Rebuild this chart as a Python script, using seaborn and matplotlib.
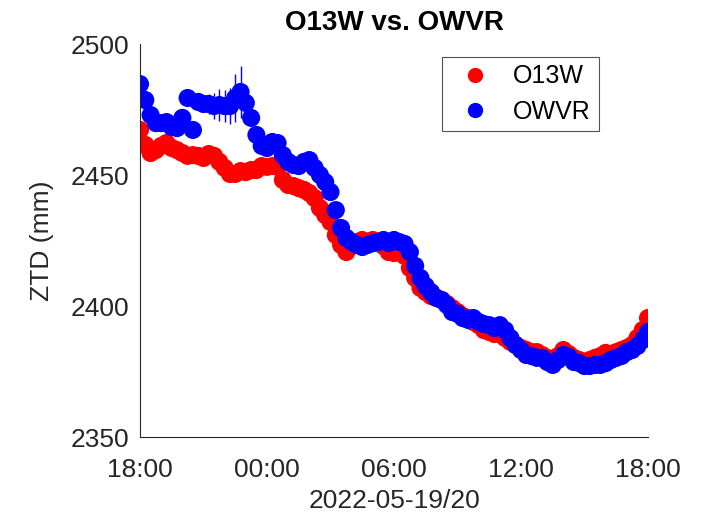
import numpy as np
import pandas as pd
import matplotlib
matplotlib.use("Agg")
import matplotlib.pyplot as plt
import seaborn as sns
from matplotlib.lines import Line2D

# hours since 2022-05-19 18:00, 15-minute sampling
hours = [i * 0.25 for i in range(97)]

o13w = [2467.2, 2461.5, 2458.4, 2459.5, 2461.1, 2462.2, 2460.3, 2459.5, 2458.4, 2457.3,
        2457.6, 2457.3, 2456.5, 2458.0, 2457.3, 2455.0, 2452.7, 2450.4, 2450.4, 2451.5,
        2451.1, 2451.9, 2451.9, 2453.4, 2453.1, 2453.4, 2453.1, 2448.1, 2446.2, 2445.8,
        2445.0, 2444.3, 2443.1, 2441.2, 2437.4, 2434.7, 2432.1, 2427.1, 2423.3, 2420.6,
        2422.9, 2424.4, 2425.2, 2424.4, 2425.2, 2424.0, 2422.9, 2420.6, 2420.2, 2420.6,
        2419.1, 2414.5, 2410.7, 2406.9, 2405.3, 2403.8, 2403.1, 2402.3, 2400.8, 2399.2,
        2397.7, 2396.2, 2395.4, 2393.9, 2392.7, 2390.8, 2390.1, 2389.3, 2389.3, 2387.8,
        2386.3, 2385.1, 2384.0, 2383.2, 2382.4, 2382.4, 2381.3, 2380.2, 2379.4, 2380.9,
        2383.2, 2381.7, 2380.2, 2379.4, 2378.6, 2379.4, 2380.2, 2380.9, 2382.1, 2381.7,
        2382.4, 2383.2, 2384.0, 2385.1, 2387.8, 2390.8, 2395.4]

owvr = [2484.7, 2478.6, 2472.9, 2469.8, 2469.8, 2470.2, 2468.3, 2467.9, 2471.8, 2479.4,
        2467.2, 2477.9, 2477.1, 2477.1, 2476.3, 2476.7, 2476.3, 2476.3, 2479.4, 2481.7,
        2477.5, 2471.8, 2465.3, 2461.1, 2460.3, 2462.6, 2462.2, 2457.6, 2455.0, 2453.8,
        2453.4, 2455.0, 2455.7, 2452.7, 2450.0, 2447.3, 2443.5, 2436.6, 2429.8, 2426.0,
        2424.4, 2423.3, 2422.5, 2423.3, 2424.0, 2424.4, 2425.2, 2424.0, 2425.2, 2424.4,
        2423.7, 2420.6, 2415.3, 2410.7, 2407.6, 2405.3, 2403.1, 2402.3, 2400.4, 2397.7,
        2397.0, 2395.4, 2394.7, 2395.4, 2393.9, 2393.1, 2392.7, 2391.6, 2392.7, 2390.8,
        2387.8, 2385.1, 2383.2, 2381.3, 2380.9, 2380.2, 2380.2, 2378.6, 2377.5, 2379.4,
        2381.3, 2380.6, 2378.6, 2378.2, 2377.1, 2377.1, 2377.5, 2377.5, 2378.2, 2379.4,
        2380.2, 2380.9, 2382.4, 2383.2, 2384.7, 2387.0, 2390.1]

owvr_err = [0.0] * 13 + [4.0, 5.0, 6.0, 6.0, 7.0, 9.0, 10.0, 7.0, 3.0] + [0.0] * 75

tick_hours = [0, 6, 12, 18, 24]
tick_labels = ["18:00", "00:00", "06:00", "12:00", "18:00"]
y_ticks = [2350, 2400, 2450, 2500]

df = pd.DataFrame({
    "hour": hours + hours,
    "ztd": o13w + owvr,
    "station": ["O13W"] * len(hours) + ["OWVR"] * len(hours),
})

sns.set_theme(style="white")
plt.rcParams["font.family"] = ["Liberation Sans", "DejaVu Sans"]
axc = "#262626"

fig = plt.figure(figsize=(7.08, 5.20), dpi=100)
ax = fig.add_axes([140 / 708, 1 - 437 / 520, 508 / 708, 393 / 520])

sns.scatterplot(data=df, x="hour", y="ztd", hue="station",
                palette={"O13W": "#ff0000", "OWVR": "#0000ff"},
                s=170, linewidth=0, alpha=1, ax=ax, legend=False, zorder=2)
ax.errorbar(hours, owvr, yerr=owvr_err, fmt="none", ecolor="#0000ff",
            elinewidth=1.0, capsize=0, zorder=3)

ax.set_xlim(0, 24)
ax.set_ylim(2350, 2500)
ax.set_xticks(tick_hours)
ax.set_xticklabels(tick_labels)
ax.set_yticks(y_ticks)
ax.tick_params(direction="in", length=5, width=0.8, colors=axc, labelsize=19)
ax.tick_params(axis="x", pad=15)
ax.tick_params(axis="y", pad=8)
for side in ["top", "right"]:
    ax.spines[side].set_visible(False)
for side in ["left", "bottom"]:
    ax.spines[side].set_color(axc)
    ax.spines[side].set_linewidth(0.8)

ax.set_xlabel("2022-05-19/20", fontsize=19, color=axc, labelpad=5)
ax.set_ylabel("ZTD (mm)", fontsize=19, color=axc, labelpad=12)
ax.set_title("O13W vs. OWVR", fontsize=20, fontweight="bold", color="black", pad=10)

handles = [Line2D([], [], marker="o", linestyle="", color="#ff0000", markersize=10),
           Line2D([], [], marker="o", linestyle="", color="#0000ff", markersize=10)]
leg = ax.legend(handles, ["O13W", "OWVR"], loc="upper left", bbox_to_anchor=(302 / 508, 0.967),
                fontsize=18, frameon=True, fancybox=False, edgecolor="#262626",
                borderpad=0.3, handlelength=2.0, handletextpad=0.55, labelspacing=0.45,
                borderaxespad=0)
leg.get_frame().set_linewidth(0.8)
for t in leg.get_texts():
    t.set_color("black")

fig.savefig("out.png", dpi=100)
